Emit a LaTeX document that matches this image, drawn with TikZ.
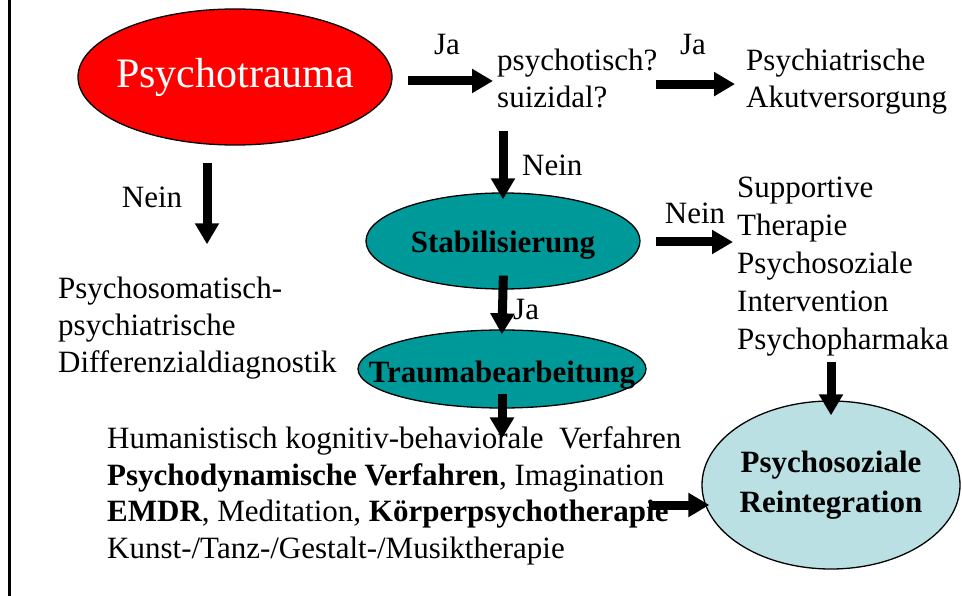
\documentclass[tikz,border=0pt]{standalone}
\usepackage{fontspec}
\setmainfont{Liberation Serif}
\usetikzlibrary{arrows.meta,shapes.geometric}
\definecolor{traumared}{RGB}{255,0,0}
\definecolor{stageteal}{RGB}{0,153,153}
\definecolor{reintblue}{RGB}{187,224,227}
\begin{document}
\begin{tikzpicture}[x=1pt,y=-1pt,
  % multi-line text blocks are placed by the baseline of their last line
  txt/.style={font=\fontsize{31}{37}\selectfont, inner sep=0pt, align=left, anchor=base west},
  lbl/.style={font=\fontsize{31}{37}\selectfont, inner sep=0pt},
  % negative horizontal sep lets the minimum size fix the oval exactly
  oval/.style={ellipse, draw=black, line width=1.3pt, inner xsep=-40pt, inner ysep=0pt},
  bold/.style={font=\bfseries\fontsize{31}{40}\selectfont},
  blk/.style={line width=9pt, -{Triangle[width=23pt,length=21pt]}},
]
\useasboundingbox (0,0) rectangle (962,596);
% frame line on the left edge
\draw[line width=3pt] (9,0) -- (9,596);

% main nodes
\node[oval, fill=traumared, text=white, minimum width=314pt, minimum height=136pt,
      font=\fontsize{42}{50}\selectfont] (pt) at (235,77) {Psychotrauma};
\node[txt] (psy) at (497,108) {psychotisch?\\suizidal?};
\node[txt] (akut) at (746,108) {Psychiatrische\\Akutversorgung};
\node[txt] (diff) at (58,373) {Psychosomatisch-\\psychiatrische\\Differenzialdiagnostik};
\node[oval, bold, fill=stageteal, minimum width=274pt, minimum height=96pt,
      text height=26pt, text depth=2pt] (stab) at (503,241) {Stabilisierung};
\node[txt, font=\fontsize{31}{38}\selectfont] (supp) at (737,349) {Supportive\\Therapie\\Psychosoziale\\Intervention\\Psychopharmaka};
\node[oval, bold, fill=stageteal, minimum width=288pt, minimum height=78pt,
      text height=28pt, text depth=2pt] (trauma) at (502,369) {Traumabearbeitung};
\node[txt, font=\fontsize{31}{36.5}\selectfont] (meth) at (107,558)
  {Humanistisch kognitiv-behaviorale\ \ Verfahren\\
   \textbf{Psychodynamische Verfahren}, Imagination\\
   \textbf{EMDR}, Meditation, \textbf{Körperpsychotherapie}\\
   Kunst-/Tanz-/Gestalt-/Musiktherapie};
\node[oval, bold, align=center, fill=reintblue, minimum width=258pt, minimum height=168pt] (reint) at (831,485) {Psychosoziale\\Reintegration};

% branch labels
\node[lbl] (ja1) at (447,45) {Ja};
\node[lbl] (ja2) at (693,45) {Ja};
\node[lbl] (nein1) at (152,197) {Nein};
\node[lbl, anchor=west] (nein2) at (522,165) {Nein};
\node[lbl] (nein3) at (695,213) {Nein};
\node[lbl, anchor=west] (ja3) at (513,310) {Ja};

% connectors
\coordinate (rin) at ([yshift=-20pt]reint.west);
\draw[blk, shorten <=15pt, shorten >=4pt] ([yshift=-2pt]pt.east |- psy.west) -- ([yshift=-2pt]psy.west);
\draw[blk, shorten <=-2pt, shorten >=11pt] ([yshift=-2pt]psy.east |- akut.west) -- ([yshift=-2pt]akut.west);
\draw[blk, shorten <=17pt, shorten >=33pt] ([xshift=-28pt]pt.south) -- ([xshift=-28pt]pt.south |- diff.north);
\draw[blk, shorten <=22pt, shorten >=-7pt] (stab.north |- psy.south) -- (stab.north);
\draw[blk, shorten <=15pt, shorten >=4pt] ([yshift=-1pt]stab.east) -- ([yshift=-1pt]supp.west |- stab.east);
\draw[blk, shorten <=-14pt, shorten >=-5pt] (stab.south) -- (trauma.north);
\draw[blk, shorten <=-15pt, shorten >=-12pt] (trauma.south) -- (trauma.south |- meth.north);
\draw[blk, shorten <=6pt, shorten >=-15pt] (reint.north |- supp.south) -- (reint.north);
\draw[blk, shorten <=-33pt, shorten >=-8pt] (meth.east |- rin) -- (rin);
\end{tikzpicture}
\end{document}
